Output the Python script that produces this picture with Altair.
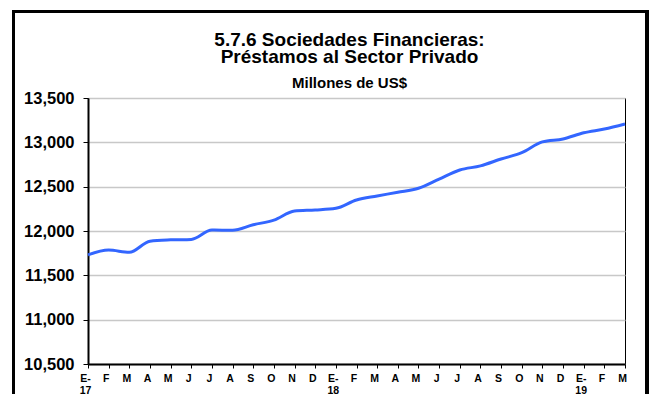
import json
import altair as alt
import pandas as pd

# Data
month_labels = ["E-|17", "F", "M", "A", "M", "J", "J", "A", "S", "O", "N", "D",
                "E-|18", "F", "M", "A", "M", "J", "J", "A", "S", "O", "N", "D",
                "E-|19", "F", "M"]
values = [11730, 11785, 11760, 11885, 11900, 11905, 12010, 12008, 12070, 12122,
          12225, 12237, 12256, 12350, 12395, 12437, 12482, 12585, 12688, 12735,
          12812, 12883, 13005, 13038, 13108, 13150, 13207]
y_ticks = [10500, 11000, 11500, 12000, 12500, 13000, 13500]
title_lines = ["5.7.6 Sociedades Financieras:", "Préstamos al Sector Privado"]
subtitle_text = "Millones de US$"

df = pd.DataFrame({"idx": list(range(len(values))), "v": values})

FONT = "Liberation Sans"
label_expr = "split(" + json.dumps(month_labels) + "[datum.value], '|')"

x_enc = alt.X(
    "idx:Q",
    scale=alt.Scale(domain=[0, len(values) - 1], nice=False, zero=False),
    axis=alt.Axis(
        values=list(range(len(values))), labelExpr=label_expr, title=None,
        grid=False, labelFont=FONT, labelFontSize=10.5, labelFontWeight="bold",
        labelColor="black", labelOverlap=False, labelBound=False, labelFlush=False,
        labelPadding=5, labelOffset=-3, labelLineHeight=12, labelBaseline="top",
        tickSize=4, tickColor="black", domainColor="black", domainWidth=2,
    ),
)
y_enc = alt.Y(
    "v:Q",
    scale=alt.Scale(domain=[10500, 13500], nice=False, zero=False),
    axis=alt.Axis(
        values=y_ticks, format=",.0f", title=None, labelFont=FONT, labelFontSize=16.5,
        labelFontWeight="bold", labelColor="black", labelPadding=9,
        tickSize=5, tickColor="black", domainColor="black", domainWidth=2,
        gridColor="#c8c8c8", gridWidth=1.5,
    ),
)

line = alt.Chart(df).mark_line(
    color="#3366FF", strokeWidth=3, interpolate="monotone"
).encode(x=x_enc, y=y_enc)

border = alt.Chart(df).mark_rect(
    fill=None, stroke="black", strokeWidth=3
).encode(
    x=alt.value(-74.5), x2=alt.value(559), y=alt.value(-86.5), y2=alt.value(400)
)

t1 = alt.Chart(pd.DataFrame({"t": [title_lines[0]]})).mark_text(
    font=FONT, fontSize=19, fontWeight="bold", color="black",
    align="center", baseline="alphabetic"
).encode(text="t:N", x=alt.value(261.5), y=alt.value(-52))

t2 = alt.Chart(pd.DataFrame({"t": [title_lines[1]]})).mark_text(
    font=FONT, fontSize=19, fontWeight="bold", color="black",
    align="center", baseline="alphabetic"
).encode(text="t:N", x=alt.value(261.5), y=alt.value(-35.5))

t3 = alt.Chart(pd.DataFrame({"t": [subtitle_text]})).mark_text(
    font=FONT, fontSize=15, fontWeight="bold", color="black",
    align="center", baseline="alphabetic"
).encode(text="t:N", x=alt.value(261.5), y=alt.value(-10.5))

chart = alt.layer(border, line, t1, t2, t3).properties(
    width=537,
    height=266,
    autosize=alt.AutoSizeParams(type="none"),
    padding={"left": 80, "top": 90, "right": 24, "bottom": 30},
).configure_view(stroke="black", strokeWidth=1)

chart.save("out.html", embed_options={"renderer": "svg", "actions": False})
